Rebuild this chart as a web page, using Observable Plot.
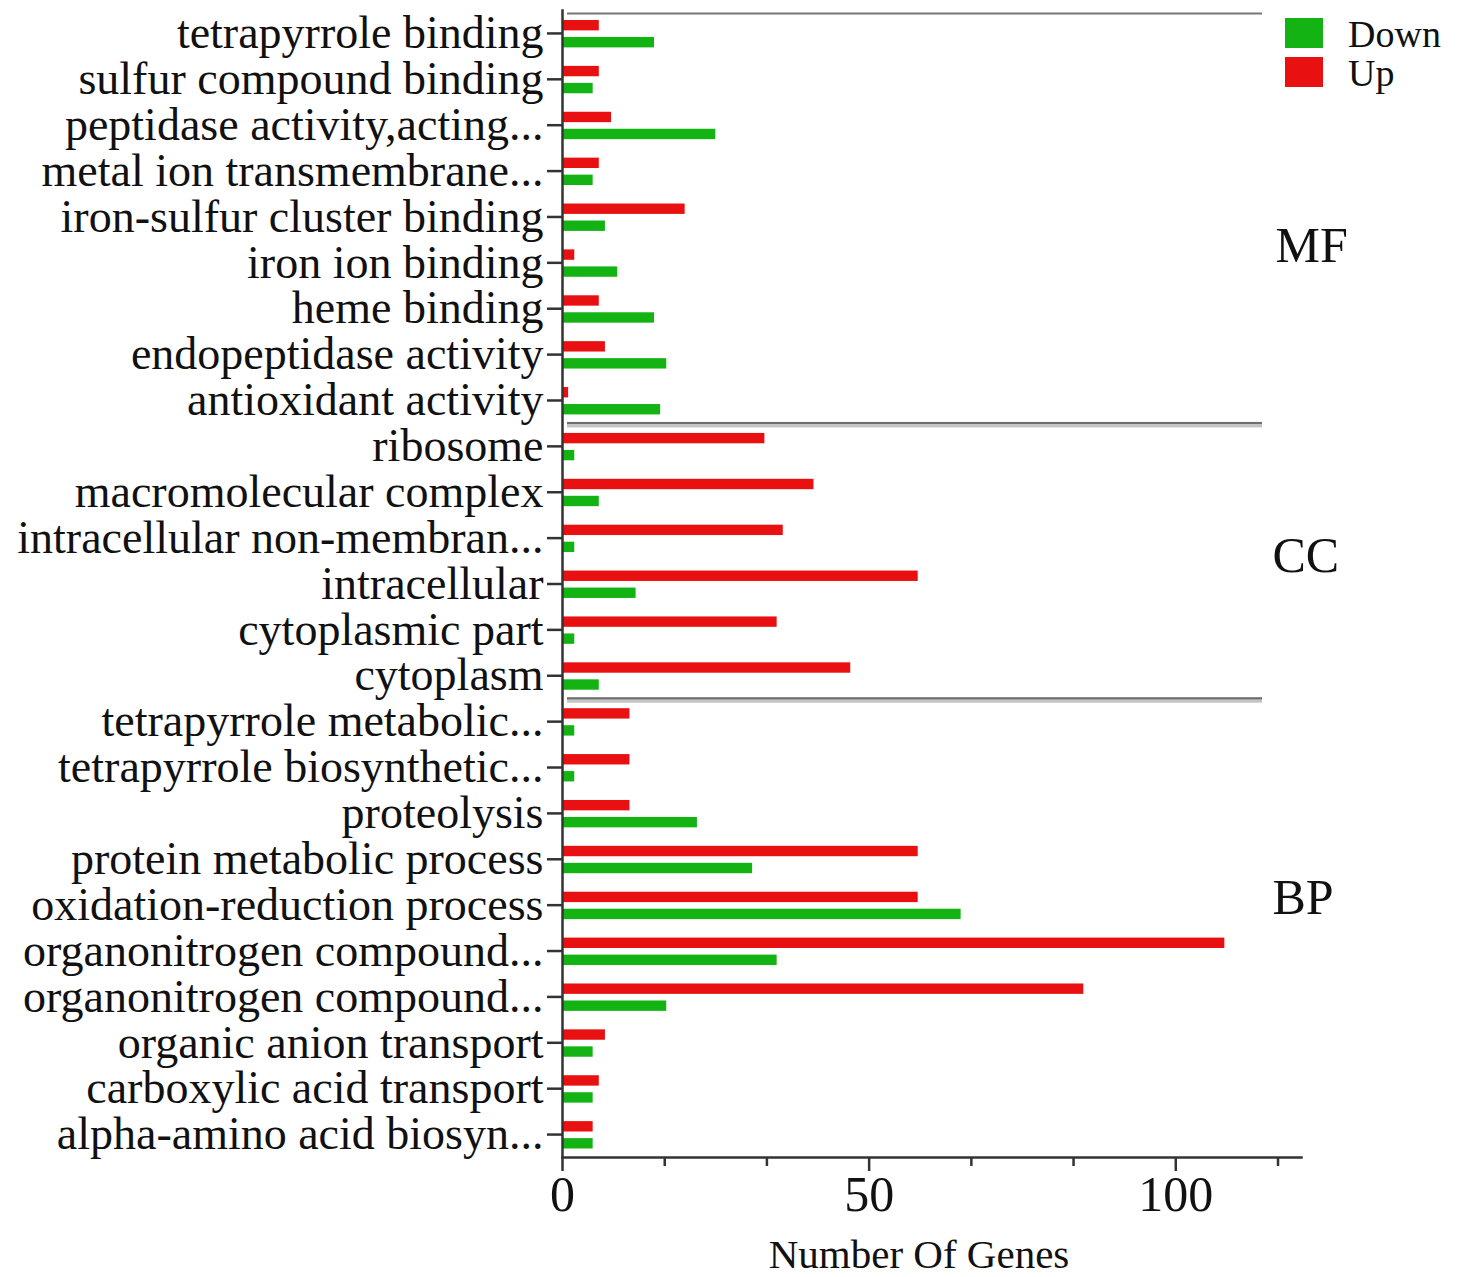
<!DOCTYPE html>
<html><head><meta charset="utf-8">
<script src="https://cdn.jsdelivr.net/npm/d3@7"></script>
<script src="https://cdn.jsdelivr.net/npm/@observablehq/plot@0.6"></script>
<style>
body{margin:0;background:#fff;}
#wrap{position:relative;width:1462px;height:1277px;font-family:"Liberation Serif","Times New Roman",serif;color:#111;}
.sw{position:absolute;left:1285px;width:38px;height:30px;}
.lt{position:absolute;left:1348px;font-size:38px;line-height:38px;}
</style></head><body><div id="wrap"></div>
<script>
const categories = [
  "tetrapyrrole binding","sulfur compound binding","peptidase activity,acting...","metal ion transmembrane...",
  "iron-sulfur cluster binding","iron ion binding","heme binding","endopeptidase activity","antioxidant activity",
  "ribosome","macromolecular complex","intracellular non-membran...","intracellular","cytoplasmic part","cytoplasm",
  "tetrapyrrole metabolic...","tetrapyrrole biosynthetic...","proteolysis","protein metabolic process",
  "oxidation-reduction process","organonitrogen compound...","organonitrogen compound...",
  "organic anion transport","carboxylic acid transport","alpha-amino acid biosyn..."
];
const upValues   = [6,6,8,6,20,2,6,7,1, 33,41,36,58,35,47, 11,11,11,58,58,108,85,7,6,5];
const downValues = [15,5,25,5,7,9,15,17,16, 2,6,2,12,2,6, 2,2,22,31,65,35,17,5,5,5];
const seriesNames = ["Down","Up"];
const seriesColors = ["#12b312","#e81010"];
const sectionNames = ["MF","CC","BP"];
const sectionStart = [0, 9, 15];
const sectionLabelAt = [5, 12, 19];
const xMax = 120.5;
const majorTicks = [0, 50, 100];
const minorTicks = [16.67, 33.33, 66.67, 83.33, 116.67];
const xTitle = "Number Of Genes";

const ids = categories.map((_, i) => String(i));
const upData = ids.map((id, i) => ({id, v: upValues[i]}));
const downData = ids.map((id, i) => ({id, v: downValues[i]}));
const sepData = sectionStart.map(i => ({id: ids[i], first: i === 0}));
const band = (1277 - 120 - 10) / categories.length;

const plot = Plot.plot({
  width: 1462, height: 1277,
  marginLeft: 562, marginRight: 161, marginTop: 10, marginBottom: 120,
  style: {fontFamily: '"Liberation Serif","Times New Roman",serif', fontSize: "46px", color: "#111", background: "#fff"},
  x: {domain: [0, xMax]},
  y: {domain: ids, padding: 0, round: false},
  marks: [
    // section separators
    Plot.barX(sepData.filter(d => d.first), {y: "id", x1: 0, x2: xMax, insetLeft: 5, insetRight: 39, insetTop: 2.5, insetBottom: band - 4.5, fill: "#777"}),
    Plot.barX(sepData.filter(d => !d.first), {y: "id", x1: 0, x2: xMax, insetLeft: 5, insetRight: 39, insetTop: -1, insetBottom: band - 1.5, fill: "#6e6e6e"}),
    Plot.barX(sepData.filter(d => !d.first), {y: "id", x1: 0, x2: xMax, insetLeft: 5, insetRight: 39, insetTop: 1.5, insetBottom: band - 4.5, fill: "#c4c4c4"}),
    Plot.barX(upData, {y: "id", x: "v", fill: seriesColors[1], insetTop: 10, insetBottom: 25.5}),
    Plot.barX(downData, {y: "id", x: "v", fill: seriesColors[0], insetTop: 27, insetBottom: 8.5}),
    Plot.frame({anchor: "left", stroke: "#333", strokeWidth: 2.5}),
    Plot.frame({anchor: "bottom", stroke: "#333", strokeWidth: 2.5}),
    Plot.axisY({tickSize: 15, tickPadding: 4, tickFormat: i => categories[+i], stroke: "#333", strokeWidth: 2.5, fontSize: 46, fill: "#111", label: null}),
    Plot.axisX({ticks: minorTicks, tickSize: 9, tickFormat: () => "", stroke: "#333", strokeWidth: 2.5, label: null}),
    Plot.axisX({ticks: majorTicks, tickSize: 14, tickPadding: 4, stroke: "#333", strokeWidth: 2.5, fontSize: 50, fill: "#111", label: null}),
    Plot.text([xTitle], {frameAnchor: "bottom", dy: 110, fontSize: 41, fill: "#111", dx: -13}),
    Plot.text([sectionNames[0]], {y: () => ids[sectionLabelAt[0]], frameAnchor: "right", textAnchor: "start", dx: -26, dy: -17, fontSize: 50, fill: "#111"}),
    Plot.text([sectionNames[1]], {y: () => ids[sectionLabelAt[1]], frameAnchor: "right", textAnchor: "start", dx: -29, dy: -28, fontSize: 50, fill: "#111"}),
    Plot.text([sectionNames[2]], {y: () => ids[sectionLabelAt[2]], frameAnchor: "right", textAnchor: "start", dx: -29, dy: -7, fontSize: 50, fill: "#111"})
  ]
});
const wrap = document.getElementById("wrap");
wrap.appendChild(plot);
// legend
const legTops = [18, 57];
seriesNames.forEach((name, i) => {
  const sw = document.createElement("div");
  sw.className = "sw"; sw.style.top = legTops[i] + "px"; sw.style.background = seriesColors[i];
  wrap.appendChild(sw);
  const t = document.createElement("div");
  t.className = "lt"; t.style.top = (legTops[i] - 3) + "px"; t.textContent = name;
  wrap.appendChild(t);
});
</script></body></html>
